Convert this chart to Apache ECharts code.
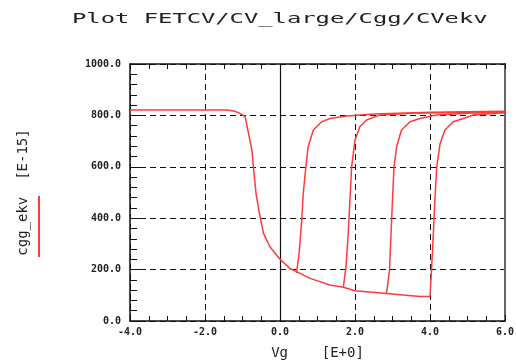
<!DOCTYPE html>
<html>
<head>
<meta charset="utf-8">
<script src="https://cdn.jsdelivr.net/npm/echarts@6/dist/echarts.min.js"></script>
<style>
html,body{margin:0;padding:0;background:#fff;}
#chart{width:516px;height:361px;}
</style>
</head>
<body>
<div id="chart"></div>
<script>
// ---- data ----
var titleText = 'Plot FETCV/CV_large/Cgg/CVekv';
var xName = 'Vg    [E+0]';
var yName = 'cgg_ekv  [E-15]';
var seriesName = 'cgg_ekv';

var xTicks = [-4, -2, 0, 2, 4, 6];
var yTicks = [0, 200, 400, 600, 800, 1000];

// common downward sweep
var trunkX = [-4, -1.4, -1.2, -1.07, -0.93, -0.84, -0.75, -0.71, -0.64, -0.55, -0.44, -0.27, 0, 0.27, 0.44, 0.8, 1.33, 1.69, 2.0, 2.84, 3.73, 4.0];
var trunkY = [821, 821, 816, 808, 795, 730, 665, 600, 497, 419, 341, 289, 240, 204, 192, 166, 140, 131, 118, 107, 95, 95];

// upward branches
var riseAX = [0.44, 0.51, 0.58, 0.62, 0.69, 0.75, 0.89, 1.11, 1.33, 1.78, 2.5, 4.0, 6.0];
var riseAY = [186, 263, 393, 497, 600, 678, 743, 775, 788, 798, 805, 812, 816];

var riseBX = [1.69, 1.76, 1.82, 1.91, 2.0, 2.13, 2.31, 2.67, 3.5, 6.0];
var riseBY = [134, 211, 341, 600, 704, 756, 782, 802, 808, 814];

var riseCX = [2.84, 2.92, 2.98, 3.04, 3.11, 3.24, 3.47, 3.73, 4.18, 5.0, 6.0];
var riseCY = [107, 198, 405, 600, 678, 743, 775, 788, 802, 808, 812];

var riseDX = [4.0, 4.04, 4.09, 4.13, 4.18, 4.27, 4.4, 4.62, 4.89, 5.16, 6.0];
var riseDY = [95, 198, 341, 471, 600, 691, 743, 775, 788, 802, 810];

function pairs(xs, ys) { return xs.map(function (x, i) { return [x, ys[i]]; }); }

var RED = '#ff3a3a';
var MONO = 'DejaVu Sans Mono';

function lineSeries(xs, ys, extra) {
  var s = {
    name: seriesName,
    type: 'line',
    xAxisIndex: 0,
    yAxisIndex: 0,
    data: pairs(xs, ys),
    showSymbol: false,
    symbol: 'none',
    smooth: false,
    silent: true,
    lineStyle: { color: RED, width: 1.5 },
    itemStyle: { color: RED },
    z: 5
  };
  if (extra) for (var k in extra) s[k] = extra[k];
  return s;
}

var chart = echarts.init(document.getElementById('chart'), null, { renderer: 'canvas' });

var labelStyle = { fontFamily: MONO, fontWeight: 'bold', fontSize: 10, color: '#222' };

chart.setOption({
  animation: false,
  backgroundColor: '#ffffff',
  graphic: [{
    type: 'text',
    x: 72,
    y: 12,
    scaleX: 1.7,
    style: { text: titleText, font: '14px "DejaVu Sans Mono"', fill: '#222' }
  }],
  legend: {
    show: true,
    data: [seriesName],
    orient: 'vertical',
    left: 38,
    top: 196,
    itemWidth: 2,
    itemHeight: 61,
    icon: 'rect',
    formatter: function () { return ''; },
    selectedMode: false,
    itemStyle: { color: RED },
    padding: 0
  },
  grid: { left: 130, right: 11, top: 64, bottom: 40, containLabel: false, outerBoundsMode: 'none' },
  xAxis: [{
    type: 'value',
    position: 'bottom',
    min: xTicks[0],
    max: xTicks[xTicks.length - 1],
    interval: 2,
    name: xName,
    nameLocation: 'middle',
    nameGap: 25,
    nameTextStyle: { fontFamily: MONO, fontSize: 14, color: '#222' },
    axisLine: { show: true, onZero: false, lineStyle: { color: '#111', width: 1.5 } },
    axisTick: { show: true, inside: true, length: 6, lineStyle: { color: '#111' } },
    minorTick: { show: true, splitNumber: 4, length: 5, lineStyle: { color: '#111' } },
    axisLabel: Object.assign({ margin: 6, formatter: function (v) { return v.toFixed(1); } }, labelStyle),
    splitLine: { show: true, lineStyle: { color: '#111', type: [6, 4], width: 1 } }
  }, {
    type: 'value',
    position: 'top',
    min: xTicks[0],
    max: xTicks[xTicks.length - 1],
    interval: 2,
    axisLine: { show: true, onZero: false, lineStyle: { color: '#111', width: 1.5 } },
    axisTick: { show: true, inside: true, length: 5, lineStyle: { color: '#111' } },
    minorTick: { show: true, splitNumber: 4, length: 5, lineStyle: { color: '#111' } },
    axisLabel: { show: false },
    splitLine: { show: false }
  }],
  yAxis: [{
    type: 'value',
    position: 'left',
    min: yTicks[0],
    max: yTicks[yTicks.length - 1],
    interval: 200,
    name: yName,
    nameLocation: 'middle',
    nameGap: 100,
    nameRotate: 90,
    nameTextStyle: { fontFamily: MONO, fontSize: 14, color: '#222' },
    axisLine: { show: true, onZero: false, lineStyle: { color: '#111', width: 1.5 } },
    axisTick: { show: true, inside: true, length: 10, lineStyle: { color: '#111' } },
    minorTick: { show: true, splitNumber: 5, length: 7, lineStyle: { color: '#111' } },
    axisLabel: Object.assign({ margin: 9, formatter: function (v) { return v.toFixed(1); } }, labelStyle),
    splitLine: { show: true, lineStyle: { color: '#111', type: [6, 4], width: 1 } }
  }, {
    type: 'value',
    position: 'right',
    min: yTicks[0],
    max: yTicks[yTicks.length - 1],
    interval: 200,
    axisLine: { show: true, onZero: false, lineStyle: { color: '#666', width: 2 } },
    axisTick: { show: false },
    axisLabel: { show: false },
    splitLine: { show: false }
  }],
  series: [
    lineSeries(trunkX, trunkY, {
      markLine: {
        silent: true,
        symbol: 'none',
        label: { show: false },
        lineStyle: { color: '#111', type: 'solid', width: 1.2 },
        data: [{ xAxis: 0 }],
        z: 3
      }
    }),
    lineSeries(riseAX, riseAY),
    lineSeries(riseBX, riseBY),
    lineSeries(riseCX, riseCY),
    lineSeries(riseDX, riseDY)
  ]
});
</script>
</body>
</html>
